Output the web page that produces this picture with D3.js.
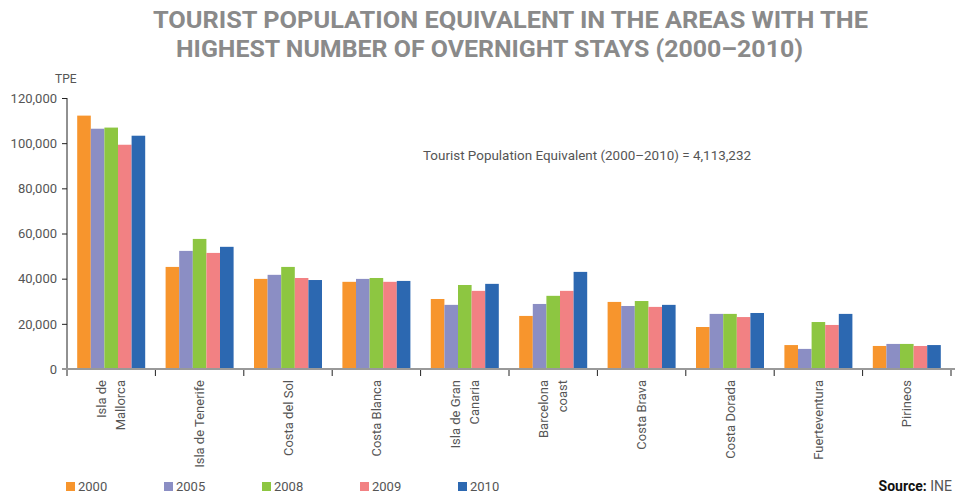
<!DOCTYPE html>
<html>
<head>
<meta charset="utf-8">
<script src="https://cdn.jsdelivr.net/npm/d3@7"></script>
<style>
  body { margin: 0; background: #fff; }
  svg { display: block; font-family: Roboto, "DejaVu Sans", sans-serif; }
</style>
</head>
<body>
<div id="chart"></div>
<script>
const categories = [
  "Isla de\nMallorca", "Isla de Tenerife", "Costa del Sol", "Costa Blanca",
  "Isla de Gran\nCanaria", "Barcelona\ncoast", "Costa Brava", "Costa Dorada",
  "Fuerteventura", "Pirineos"
];
const years = ["2000", "2005", "2008", "2009", "2010"];
const v2000 = [112200, 45200, 39900, 38600, 31000, 23500, 29700, 18600, 10600, 10200];
const v2005 = [106400, 52300, 41700, 39900, 28400, 28800, 27900, 24400, 8900, 11100];
const v2008 = [106900, 57600, 45200, 40300, 37200, 32400, 30100, 24400, 20800, 11100];
const v2009 = [99300, 51400, 40300, 38600, 34600, 34600, 27500, 23000, 19500, 10200];
const v2010 = [103300, 54100, 39400, 39000, 37700, 43000, 28400, 24800, 24400, 10600];
const yTicks = [0, 20000, 40000, 60000, 80000, 100000, 120000];
const colors = ["#f7952d", "#8b8ec4", "#8dc641", "#f28183", "#2c68b1"];

const series = [v2000, v2005, v2008, v2009, v2010];
const width = 955, height = 496;

const svg = d3.select("#chart").append("svg")
  .attr("width", width).attr("height", height)
  .attr("viewBox", [0, 0, width, height]);

// scales
const x = d3.scaleBand().domain(categories).range([67, 951]);
const xs = d3.scaleBand().domain(years).range([0, x.bandwidth()]).paddingOuter(0.75);
const y = d3.scaleLinear().domain([0, 120000]).range([369, 98]);
const color = d3.scaleOrdinal().domain(years).range(colors);

// title
const title = svg.append("g").attr("fill", "#8a8a8a").attr("font-weight", "bold")
  .attr("font-size", 24);
title.append("text").attr("x", 153).attr("y", 28)
  .attr("textLength", 715).attr("lengthAdjust", "spacingAndGlyphs")
  .text("TOURIST POPULATION EQUIVALENT IN THE AREAS WITH THE");
title.append("text").attr("x", 176).attr("y", 57)
  .attr("textLength", 627).attr("lengthAdjust", "spacingAndGlyphs")
  .text("HIGHEST NUMBER OF OVERNIGHT STAYS (2000\u20132010)");

// bars
const rows = categories.map((c, i) => ({ cat: c, vals: years.map((yr, j) => ({ yr, v: series[j][i] })) }));
svg.append("g").selectAll("g").data(rows).join("g")
  .attr("transform", d => `translate(${x(d.cat)},0)`)
  .selectAll("rect").data(d => d.vals).join("rect")
  .attr("x", d => xs(d.yr))
  .attr("width", xs.bandwidth())
  .attr("y", d => y(d.v))
  .attr("height", d => y(0) - y(d.v))
  .attr("fill", d => color(d.yr));

// y axis
const yAxis = svg.append("g").attr("transform", "translate(67,0)")
  .call(d3.axisLeft(y).tickValues(yTicks).tickFormat(d3.format(",")).tickSize(5).tickPadding(5));
yAxis.select(".domain").remove();
yAxis.selectAll(".tick line").attr("stroke", "#222");
yAxis.selectAll(".tick text").attr("fill", "#555").attr("font-size", 13)
  .attr("font-family", "Roboto, sans-serif");
svg.append("line").attr("x1", 67).attr("x2", 67).attr("y1", y(120000)).attr("y2", y(0) + 7)
  .attr("stroke", "#222");

svg.append("text").attr("x", 55).attr("y", 83).attr("fill", "#555").attr("font-size", 12)
  .text("TPE");

// x axis
svg.append("line").attr("x1", 62).attr("x2", 955).attr("y1", y(0)).attr("y2", y(0))
  .attr("stroke", "#999").attr("stroke-width", 2);
const bounds = categories.map(c => x(c)).concat([x.range()[1]]);
svg.append("g").selectAll("line").data(bounds.slice(1)).join("line")
  .attr("x1", d => d).attr("x2", d => d)
  .attr("y1", y(0) + 1).attr("y2", y(0) + 7)
  .attr("stroke", "#222");

const xl = svg.append("g").attr("fill", "#555").attr("font-size", 13);
categories.forEach(c => {
  const lines = c.split("\n");
  const cx = x(c) + x.bandwidth() / 2;
  lines.forEach((ln, k) => {
    const off = (k - (lines.length - 1) / 2) * 19;
    xl.append("text")
      .attr("transform", `translate(${cx + off},380) rotate(-90)`)
      .attr("text-anchor", "end")
      .attr("dy", "0.35em")
      .text(ln);
  });
});

// annotation
svg.append("text").attr("x", 423).attr("y", 160).attr("fill", "#555").attr("font-size", 13)
  .attr("textLength", 328).attr("lengthAdjust", "spacingAndGlyphs")
  .text("Tourist Population Equivalent (2000\u20132010) = 4,113,232");

// legend
const lx = d3.scalePoint().domain(years).range([66, 458]);
const leg = svg.append("g").selectAll("g").data(years).join("g")
  .attr("transform", d => `translate(${lx(d)},482)`);
leg.append("rect").attr("width", 9).attr("height", 9).attr("fill", d => color(d));
leg.append("text").attr("x", 12).attr("y", 9).attr("fill", "#555").attr("font-size", 13)
  .text(d => d);

// source
const src = svg.append("text").attr("x", 952).attr("y", 491).attr("text-anchor", "end")
  .attr("font-size", 14);
src.append("tspan").attr("font-weight", "bold").attr("fill", "#111").text("Source: ");
src.append("tspan").attr("fill", "#555").text("INE");
</script>
</body>
</html>
